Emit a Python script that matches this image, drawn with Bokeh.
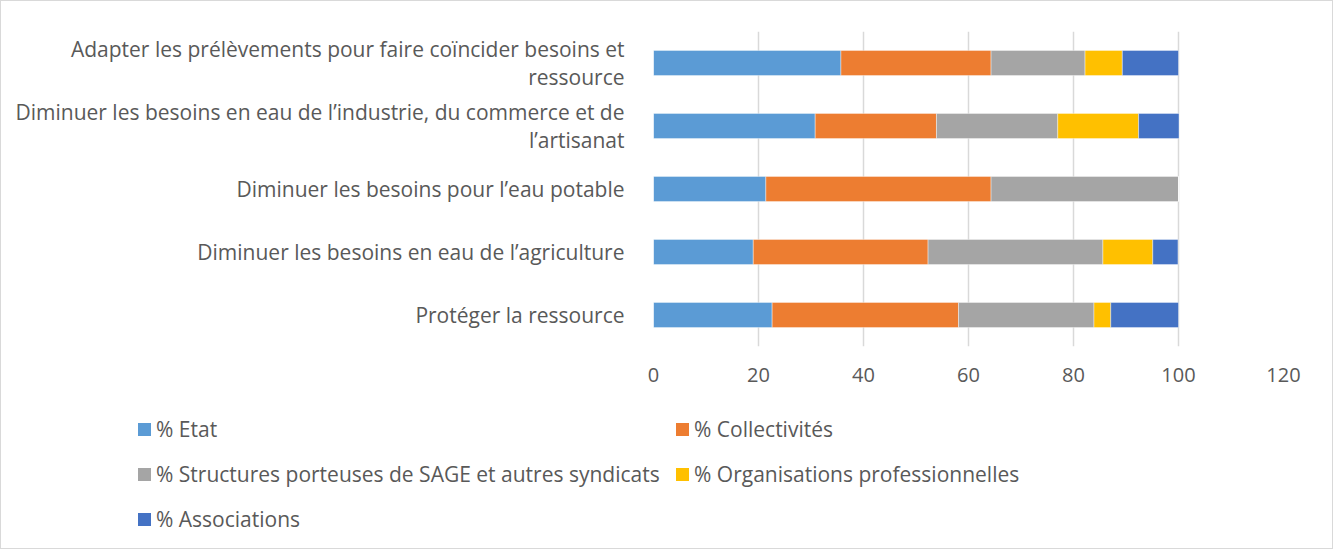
from bokeh.plotting import figure
from bokeh.layouts import column
from bokeh.models import FactorRange, Range1d, FixedTicker, Div
from bokeh.embed import file_html
from bokeh.resources import INLINE

# categories, bottom to top
categories = [
    "Protéger la ressource",
    "Diminuer les besoins en eau de l’agriculture",
    "Diminuer les besoins pour l’eau potable",
    "Diminuer les besoins en eau de l’industrie, du commerce et de\nl’artisanat",
    "Adapter les prélèvements pour faire coïncider besoins et\nressource",
]
series_names = [
    "% Etat",
    "% Collectivités",
    "% Structures porteuses de SAGE et autres syndicats",
    "% Organisations professionnelles",
    "% Associations",
]
etat = [22.6, 19.0, 21.4, 30.8, 35.7]
collectivites = [35.5, 33.3, 42.9, 23.1, 28.6]
structures = [25.8, 33.3, 35.7, 23.1, 17.9]
organisations = [3.2, 9.5, 0.0, 15.4, 7.1]
associations = [12.9, 4.8, 0.0, 7.7, 10.7]
x_ticks = [0, 20, 40, 60, 80, 100, 120]

colors = ["#5B9BD5", "#ED7D31", "#A5A5A5", "#FFC000", "#4472C4"]
keys = ["etat", "collectivites", "structures", "organisations", "associations"]

data = dict(cat=categories, etat=etat, collectivites=collectivites,
            structures=structures, organisations=organisations,
            associations=associations)

FONT = "Open Sans"
TXT = "#595959"

p = figure(width=1321, height=410, y_range=FactorRange(factors=categories),
           x_range=Range1d(0, 120), output_backend="svg", toolbar_location=None,
           min_border_left=652, min_border_right=39, min_border_top=30,
           min_border_bottom=65)
p.outline_line_color = None

p.hbar_stack(keys, y="cat", height=0.4, color=colors, source=data,
             line_color="white", line_alpha=0.5, line_width=0.8)

p.xaxis.ticker = FixedTicker(ticks=x_ticks)
p.xgrid.ticker = FixedTicker(ticks=x_ticks)
p.xgrid.grid_line_color = "#D9D9D9"
p.xgrid.grid_line_width = 1.5
p.ygrid.grid_line_color = None

for ax in (p.xaxis[0], p.yaxis[0]):
    ax.axis_line_color = None
    ax.major_tick_line_color = None
    ax.minor_tick_line_color = None
    ax.major_label_text_font = FONT
    ax.major_label_text_color = TXT
p.yaxis.major_label_text_font_size = "21px"
p.yaxis.major_label_text_line_height = 1.0
p.xaxis.major_label_text_font_size = "20px"
p.xaxis.major_label_standoff = 15
p.yaxis.major_label_standoff = 23

# legend (HTML), two columns filled row by row
col_left = [132, 670]
items_html = ""
for i, (name, c) in enumerate(zip(series_names, colors)):
    row, col = divmod(i, 2)
    items_html += (
        f'<div style="position:absolute;left:{col_left[col]}px;top:{1 + 45 * row}px;'
        f'height:24px;display:flex;align-items:center;white-space:nowrap;">'
        f'<span style="display:inline-block;width:13px;height:13px;'
        f'background:{c};margin-right:5px;"></span><span>{name}</span></div>'
    )
legend_div = Div(
    text=(f'<div style="position:relative;width:1321px;height:127px;'
          f'font-family:\'{FONT}\';font-size:21px;color:{TXT};">{items_html}</div>'),
    width=1321, height=127)

layout = column(p, legend_div, spacing=0)
layout.styles = {"border": "1px solid #D9D9D9"}

open("out.html", "w").write(file_html(layout, INLINE))
